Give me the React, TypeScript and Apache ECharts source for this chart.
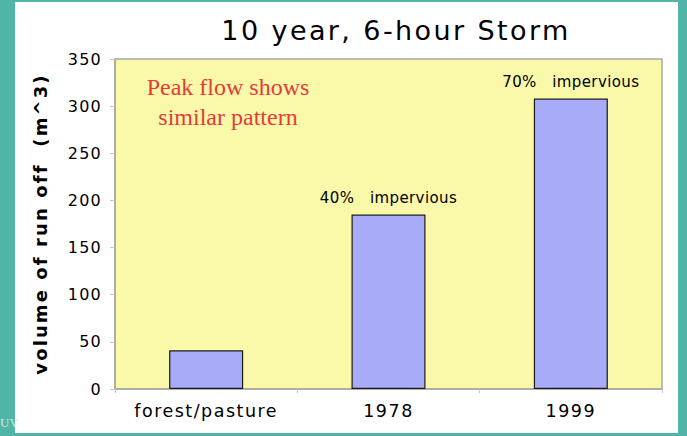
import React, { useEffect, useRef } from "react";
import * as echarts from "echarts";

const categories = ["forest/pasture", "1978", "1999"];
const runoffVolume = [41, 185, 308];
const barNotes = ["", "40%   impervious", "70%   impervious"];
const yTicks = [0, 50, 100, 150, 200, 250, 300, 350];
const titleText = "10 year, 6-hour Storm";
const yAxisName = "volume of run off  (m^3)";
const noteLines = ["Peak flow shows", "similar pattern"];

const css = `
.runoff-chart text[style*="27px"] { letter-spacing: 2.4px; }
.runoff-chart text[style*="18px"] { letter-spacing: 2.1px; }
.runoff-chart text[style*="17.5px"] { letter-spacing: 1.5px; }
.runoff-chart text[style*="16px"] { letter-spacing: 1.2px; }
.runoff-chart text[style*="15px"] { letter-spacing: 0.4px; }
`;

export default function App() {
  const ref = useRef<HTMLDivElement>(null);
  useEffect(() => {
    if (!ref.current) return;
    const chart = echarts.init(ref.current, null, { renderer: "svg" });
    const font = "DejaVu Sans";
    chart.setOption({
      animation: false,
      backgroundColor: "#50b5a6",
      graphic: [
        {
          type: "rect",
          z: -10,
          silent: true,
          shape: { x: 15, y: 2, width: 663, height: 431 },
          style: { fill: "#ffffff" },
        },
        {
          type: "text",
          style: {
            text: titleText,
            x: 396,
            y: 30,
            align: "center",
            verticalAlign: "middle",
            fontFamily: font,
            fontSize: 27,
            fill: "#000000",
          },
        },
        {
          type: "text",
          style: {
            text: noteLines.join("\n"),
            x: 228,
            y: 72,
            align: "center",
            verticalAlign: "top",
            fontFamily: "Liberation Serif",
            fontSize: 24,
            lineHeight: 30,
            fill: "#e83a3a",
          },
        },
        {
          type: "text",
          style: {
            text: "UV",
            x: 0,
            y: 422,
            verticalAlign: "middle",
            fontFamily: "Liberation Serif",
            fontSize: 13,
            fill: "#cfe8e2",
          },
        },
      ],
      grid: {
        left: 115,
        right: 25,
        top: 59,
        bottom: 47,
        show: true,
        backgroundColor: "#f9f9a9",
        borderColor: "#a9a9a0",
        borderWidth: 1.5,
        containLabel: false,
      },
      xAxis: {
        type: "category",
        data: categories,
        axisLine: { lineStyle: { color: "#a9a9a0", width: 1.5 } },
        axisTick: { show: true, lineStyle: { color: "#c8c8c0" }, length: 4 },
        axisLabel: {
          color: "#000",
          fontFamily: font,
          fontSize: 17.5,
          margin: 13,
        },
      },
      yAxis: {
        type: "value",
        min: 0,
        max: yTicks[yTicks.length - 1],
        interval: yTicks[1] - yTicks[0],
        name: yAxisName,
        nameLocation: "middle",
        nameGap: 66,
        nameTextStyle: {
          color: "#000",
          fontFamily: font,
          fontWeight: "bold",
          fontSize: 18,
        },
        splitLine: { show: false },
        axisLine: { show: true, lineStyle: { color: "#a9a9a0", width: 1.5 } },
        axisTick: { show: true, length: 5, lineStyle: { color: "#c8c8c0" } },
        axisLabel: {
          color: "#000",
          fontFamily: font,
          fontSize: 16,
          margin: 13,
        },
      },
      series: [
        {
          type: "bar",
          barWidth: 74,
          data: runoffVolume.map((v, i) => ({
            value: v,
            label: {
              show: barNotes[i] !== "",
              formatter: barNotes[i],
            },
          })),
          itemStyle: {
            color: "#a8acf8",
            borderColor: "#1a1a1a",
            borderWidth: 1.2,
          },
          label: {
            position: "top",
            distance: 9,
            color: "#000",
            fontFamily: font,
            fontSize: 15,
          },
        },
      ],
    });
    return () => chart.dispose();
  }, []);
  return (
    <>
      <style>{css}</style>
      <div
        ref={ref}
        className="runoff-chart"
        style={{ position: "fixed", left: 0, top: 0, width: 687, height: 436 }}
      />
    </>
  );
}
